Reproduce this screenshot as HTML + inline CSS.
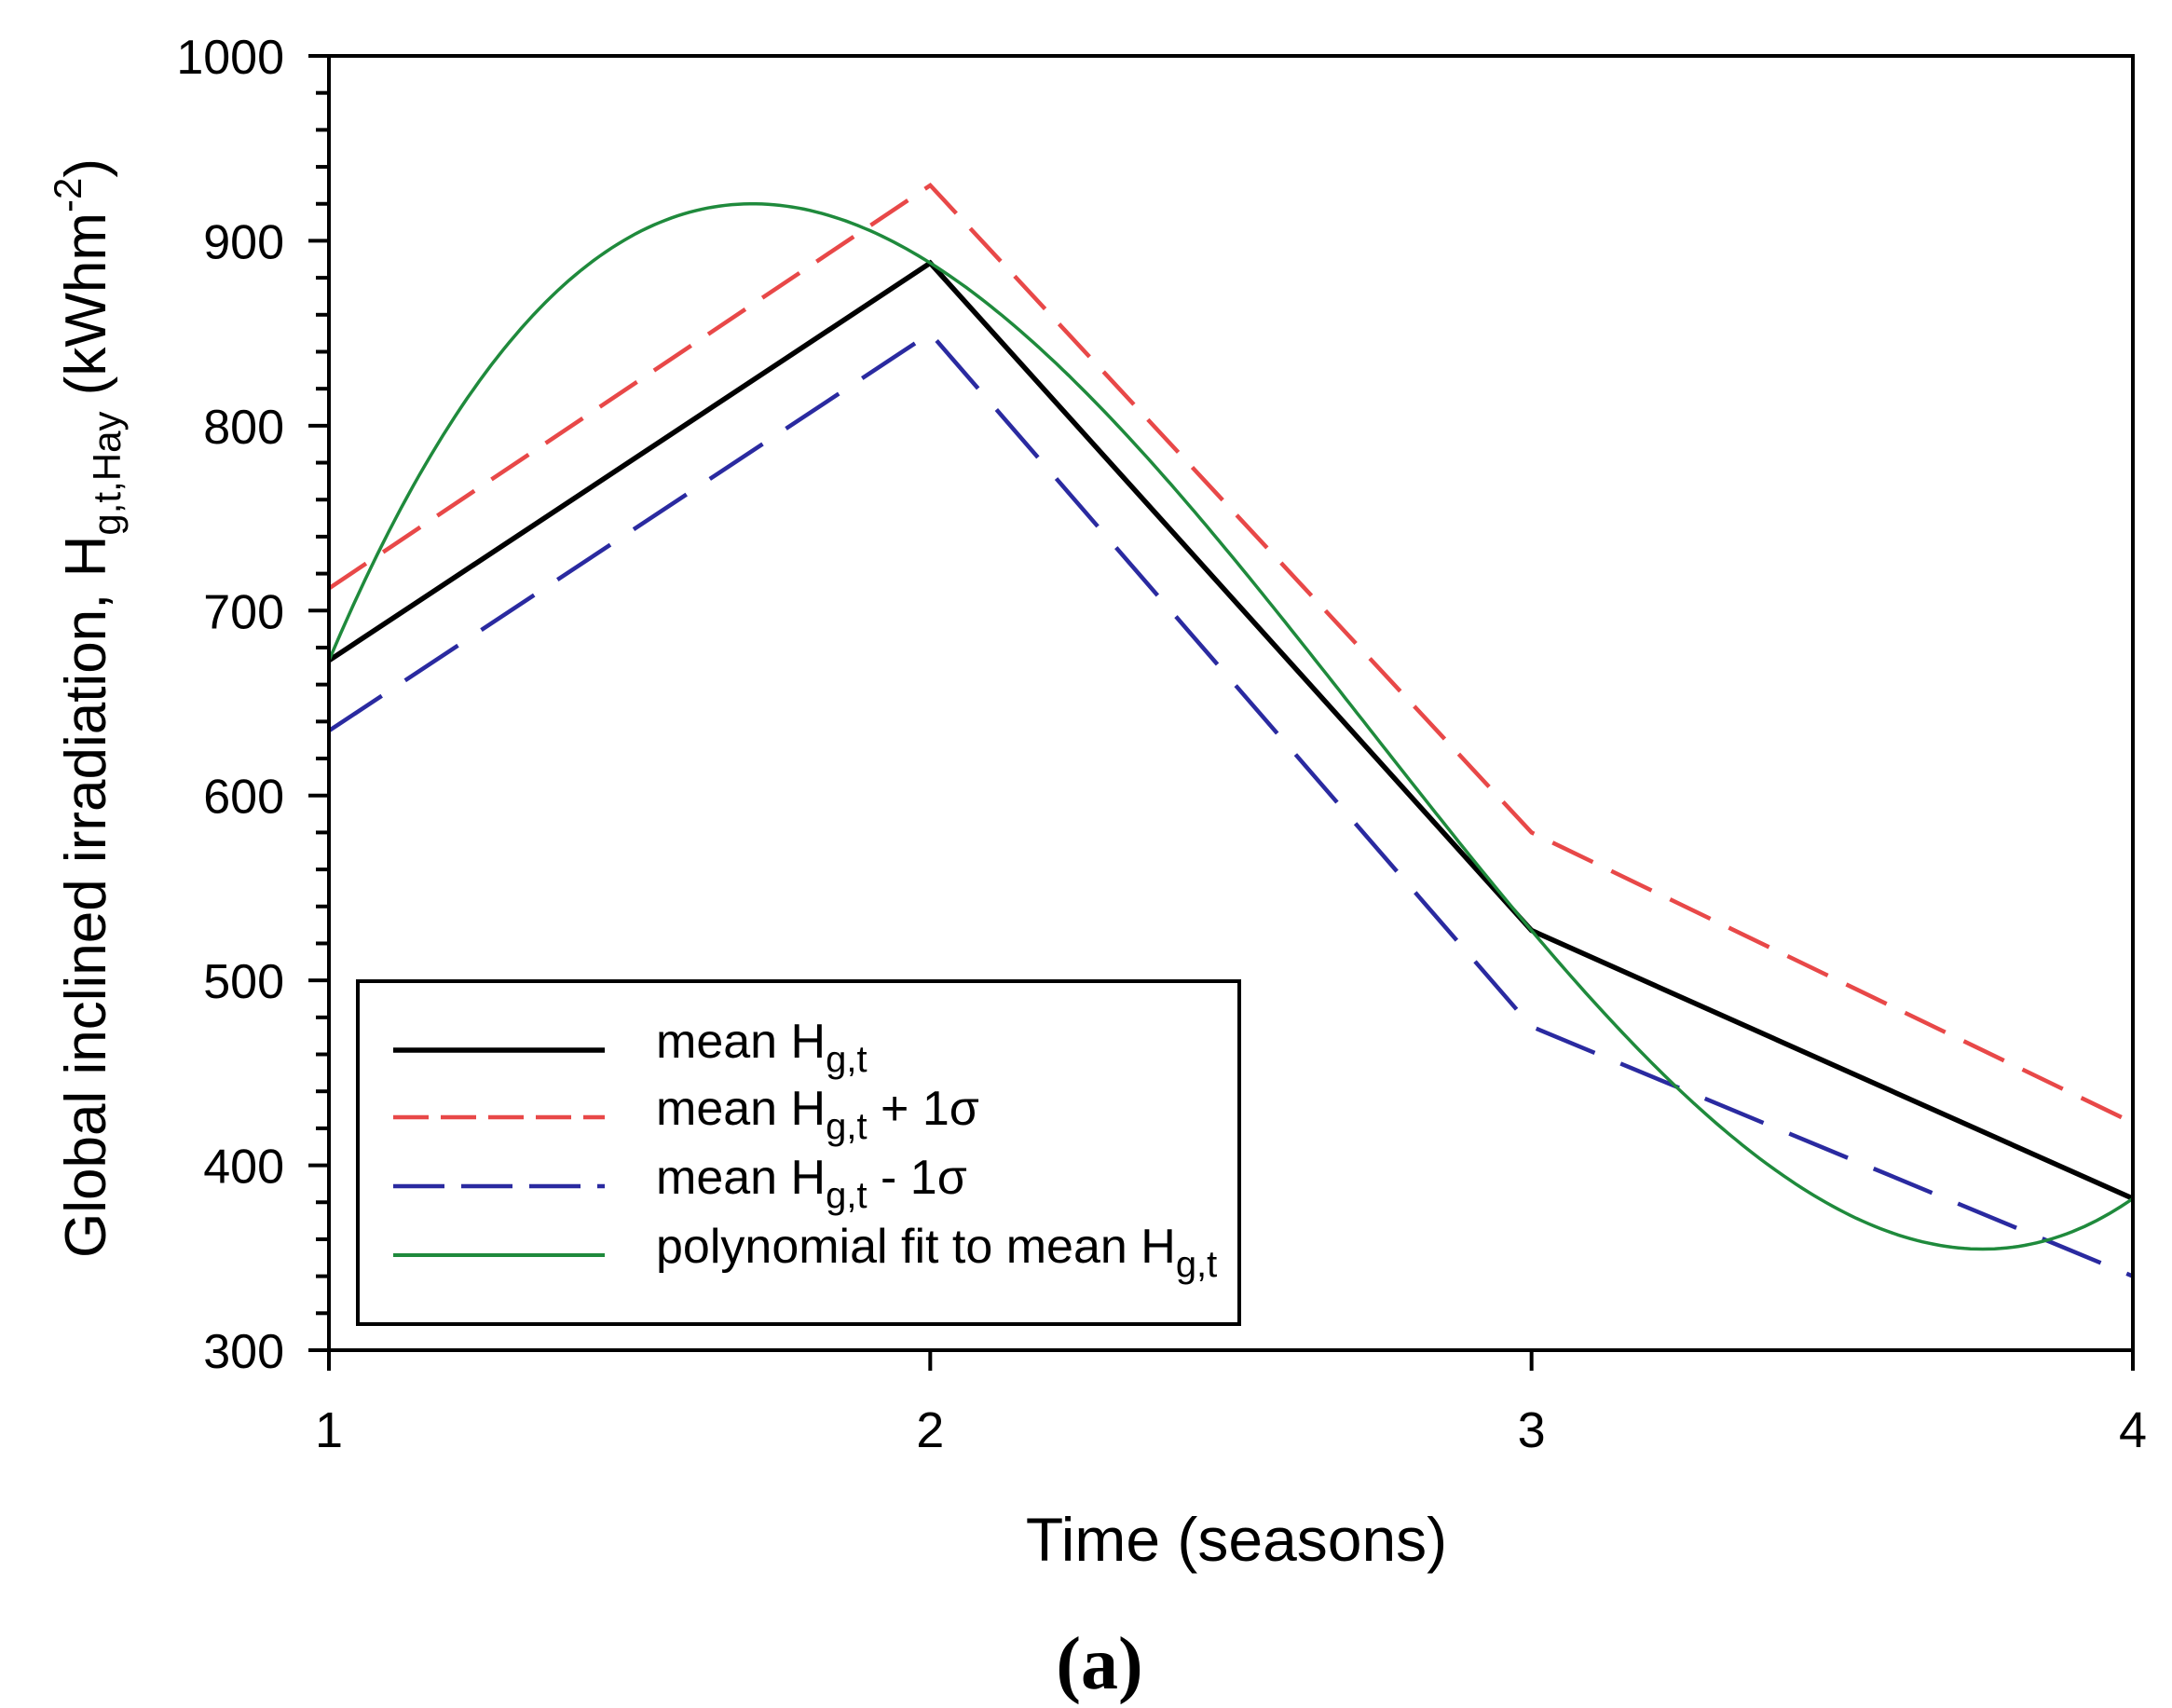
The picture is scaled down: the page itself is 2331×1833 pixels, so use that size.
<!DOCTYPE html>
<html><head><meta charset="utf-8"><style>
html,body{margin:0;padding:0;background:#fff;}
svg{display:block;font-family:"Liberation Sans",Arial,sans-serif;}
</style></head><body>
<svg id="chart" width="2331" height="1833" viewBox="0 0 2331 1833" xmlns="http://www.w3.org/2000/svg">
<g id="plot"></g>
<g id="axes"></g>
<g>
  <rect x="384" y="1053" width="946" height="368" fill="#fff" stroke="#000" stroke-width="4"/>
  <g>
    <line x1="422" y1="1127" x2="649" y2="1127" stroke="#000" stroke-width="5.5"/>
    <text x="704" y="1135" font-size="52">mean H<tspan font-size="40" dy="15">g,t</tspan></text>
  </g>
  <g>
    <line x1="422" y1="1199" x2="649" y2="1199" stroke="#e84848" stroke-width="4.5" stroke-dasharray="38,13"/>
    <text x="704" y="1207" font-size="52">mean H<tspan font-size="40" dy="15">g,t</tspan><tspan dy="-15"> + 1σ</tspan></text>
  </g>
  <g>
    <line x1="422" y1="1273" x2="649" y2="1273" stroke="#2a2aa0" stroke-width="4.5" stroke-dasharray="55,18"/>
    <text x="704" y="1281" font-size="52">mean H<tspan font-size="40" dy="15">g,t</tspan><tspan dy="-15"> - 1σ</tspan></text>
  </g>
  <g>
    <line x1="422" y1="1347" x2="649" y2="1347" stroke="#1f8a3c" stroke-width="4"/>
    <text x="704" y="1355" font-size="52">polynomial fit to mean H<tspan font-size="40" dy="15">g,t</tspan></text>
  </g>
</g>
<text x="1327" y="1675" font-size="66" text-anchor="middle">Time (seasons)</text>
<text transform="translate(113,760) rotate(-90)" font-size="62" text-anchor="middle">Global inclined irradiation, H<tspan font-size="42" dy="16">g,t,Hay</tspan><tspan dy="-16"> (kWhm</tspan><tspan font-size="42" dy="-26">-2</tspan><tspan dy="26">)</tspan></text>
<text x="1180" y="1812" font-size="80" font-weight="bold" text-anchor="middle" font-family="Liberation Serif, serif">(a)</text>
</svg>
<script>
const seasons = [1, 2, 3, 4];
const meanValues = [673, 888, 527, 382];
const plusSigmaValues = [712, 930, 580, 423];
const minusSigmaValues = [635, 850, 475, 340];
const yTickLabels = [300, 400, 500, 600, 700, 800, 900, 1000];
const xTickLabels = [1, 2, 3, 4];

const L = 353, R = 2289, T = 60, B = 1449;
const xMin = 1, xMax = 4, yMin = 300, yMax = 1000;
function xs(v){ return L + (v - xMin) / (xMax - xMin) * (R - L); }
function ys(v){ return B - (v - yMin) / (yMax - yMin) * (B - T); }
const NS = 'http://www.w3.org/2000/svg';
function mk(tag, attrs, parent){ const e = document.createElementNS(NS, tag); for (const k in attrs) e.setAttribute(k, attrs[k]); parent.appendChild(e); return e; }

function poly(x){
  const x0 = seasons, y = meanValues;
  const d1 = [y[1]-y[0], y[2]-y[1], y[3]-y[2]];
  const d2 = [(d1[1]-d1[0])/2, (d1[2]-d1[1])/2];
  const d3 = (d2[1]-d2[0])/3;
  return y[0] + d1[0]*(x-x0[0]) + d2[0]*(x-x0[0])*(x-x0[1]) + d3*(x-x0[0])*(x-x0[1])*(x-x0[2]);
}

const plot = document.getElementById('plot');
const axes = document.getElementById('axes');

function series(vals, color, w, dash, name){
  const pts = seasons.map((s, i) => xs(s) + ',' + ys(vals[i])).join(' ');
  const p = mk('polyline', {points: pts, fill: 'none', stroke: color, 'stroke-width': w, 'stroke-linejoin': 'miter'}, plot);
  if (dash) p.setAttribute('stroke-dasharray', dash);
  
  
}
series(plusSigmaValues, '#e84848', 4.5, '48,22', 'series-mean-plus-sigma');
series(minusSigmaValues, '#2a2aa0', 4.5, '68,30', 'series-mean-minus-sigma');
series(meanValues, '#000', 5.5, null, 'series-mean');
let d = '';
for (let i = 0; i <= 300; i++){
  const x = xMin + (xMax - xMin) * i / 300;
  d += (i ? 'L' : 'M') + xs(x).toFixed(1) + ',' + ys(poly(x)).toFixed(1);
}
const pf = mk('path', {d: d, fill: 'none', stroke: '#1f8a3c', 'stroke-width': 3.5}, plot);



const fr = mk('rect', {x: L, y: T, width: R - L, height: B - T, fill: 'none', stroke: '#000', 'stroke-width': 4}, axes);



for (let v = yMin; v <= yMax; v += 20){
  const major = (v % 100 === 0);
  const t = mk('line', {x1: L - (major ? 22 : 14), x2: L, y1: ys(v), y2: ys(v), stroke: '#000', 'stroke-width': 4}, axes);
  
  
}
yTickLabels.forEach(v => {
  const t = mk('text', {x: 305, y: ys(v) + 19, 'font-size': 52, 'text-anchor': 'end'}, axes);
  t.textContent = v;
  
  
});
xTickLabels.forEach(v => {
  const t = mk('line', {x1: xs(v), x2: xs(v), y1: B, y2: B + 22, stroke: '#000', 'stroke-width': 4}, axes);
  
  
  const l = mk('text', {x: xs(v), y: 1553, 'font-size': 54, 'text-anchor': 'middle'}, axes);
  l.textContent = v;
  
  
});
</script>
</body></html>
